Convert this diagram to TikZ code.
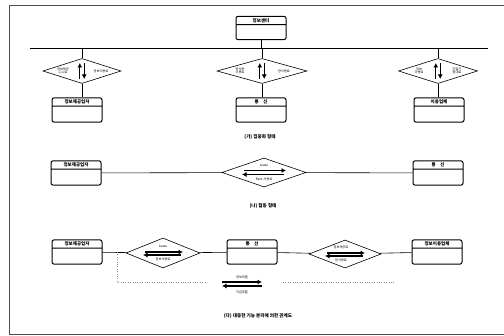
\documentclass[tikz,border=0pt]{standalone}
\usepackage{fontspec}
\newfontfamily\kr{Noto Sans CJK KR}
\usetikzlibrary{shapes.geometric,shapes.multipart,arrows.meta}

\begin{document}
\begin{tikzpicture}[x=1pt,y=-1pt,
  unit/.style={rectangle split, rectangle split parts=2, draw, line width=1pt, rounded corners=2pt,
    text width=47pt, align=center, inner sep=1.5pt, font=\kr\bfseries\fontsize{4.5}{5}\selectfont},
  deal/.style={diamond, draw, line width=0.6pt, inner sep=0pt},
  note/.style={font=\kr\fontsize{3.2}{3.6}\selectfont, align=center, inner sep=0.3pt},
  captext/.style={font=\kr\bfseries\fontsize{4.6}{5}\selectfont},
  flow/.style={line width=1.3pt, -{Latex[length=4.5pt,width=5pt]}},
  link/.style={line width=0.6pt}]
\useasboundingbox (0,0) rectangle (504,336);
% frame
\draw[line width=0.8pt, black!70] (504,5) -- (9,5) -- (9,334) -- (504,334);

% (가)
\node[unit] (hub) at (261,28) {정보센터\nodepart{second}\rule{0pt}{11pt}};
\coordinate (busl) at (30,48);
\coordinate (busr) at (488,48);
\draw[link] (busl) -- (busr);
\draw[link] (hub) -- (hub |- busl);

\node[deal, minimum width=78pt, minimum height=25pt] (d1) at (82,71) {};
\node[deal, minimum width=90pt, minimum height=25pt] (d2) at (262,71) {};
\node[deal, minimum width=79pt, minimum height=25pt] (d3) at (438,71) {};
\node[unit] (ip1) at (77,110) {정보제공업자\nodepart{second}\rule{0pt}{12pt}};
\node[unit] (net1) at (261,110) {통\quad 신\nodepart{second}\rule{0pt}{12pt}};
\node[unit] (us1) at (439,110) {이용업체\nodepart{second}\rule{0pt}{12pt}};

\draw[link] (d1.north |- busl) -- (d1.north);
\draw[link] (d2.north |- busl) -- (d2.north);
\draw[link] (d3.north |- busl) -- (d3.north);
\draw[link] (d1.south) -- (d1.south |- ip1.north);
\draw[link] (d2.south) -- (d2.south |- net1.north);
\draw[link] (d3.south) -- (d3.south |- us1.north);

\node[note] (d1l) at ([xshift=-19pt]d1.center) {정보제공\\수수료};
\node[note] (d1r) at ([xshift=19pt]d1.center) {정보이용료};
\node[note] (d2l) at ([xshift=-22pt]d2.center) {망사용\\이용료};
\node[note] (d2r) at ([xshift=22pt]d2.center) {망이용료};
\node[note] (d3l) at ([xshift=-19pt]d3.center) {정보\\이용료};
\node[note] (d3r) at ([xshift=19pt]d3.center) {단말기\\임대료};
\draw[flow] ([shift={(-2.2,8)}]d1.center) -- ([shift={(-2.2,-8)}]d1.center);
\draw[flow] ([shift={(2.2,-8)}]d1.center) -- ([shift={(2.2,8)}]d1.center);
\draw[flow] ([shift={(-2.2,8)}]d2.center) -- ([shift={(-2.2,-8)}]d2.center);
\draw[flow] ([shift={(2.2,-8)}]d2.center) -- ([shift={(2.2,8)}]d2.center);
\draw[flow] ([shift={(-2.2,8)}]d3.center) -- ([shift={(-2.2,-8)}]d3.center);
\draw[flow] ([shift={(2.2,-8)}]d3.center) -- ([shift={(2.2,8)}]d3.center);

\node[captext] (capa) at (260,137) {(가) 집중화 형태};

% (나)
\node[unit] (ip2) at (76,173) {정보제공업자\nodepart{second}\rule{0pt}{12pt}};
\node[unit] (net2) at (438,173) {통\quad 신\nodepart{second}\rule{0pt}{12pt}};
\node[deal, minimum width=84pt, minimum height=29pt] (e1) at (264,172.5) {};
\draw[link] (ip2) -- (e1);
\draw[link] (e1) -- (net2);
\node[note] (e1t) at ([yshift=7.5pt]e1.center) {Lease};
\node[note] (e1b) at ([yshift=-7pt]e1.center) {Rent 사용료};
\draw[flow] ([shift={(-20,-2)}]e1.center) -- ([shift={(22,-2)}]e1.center);
\draw[flow] ([shift={(20,2)}]e1.center) -- ([shift={(-22,2)}]e1.center);

\node[captext] (capb) at (263,206) {(나) 협동 형태};

% (다)
\node[unit] (ip3) at (77,252) {정보제공업자\nodepart{second}\rule{0pt}{12pt}};
\node[unit] (net3) at (252,252) {통\quad 신\nodepart{second}\rule{0pt}{12pt}};
\node[unit] (us3) at (437,252) {정보이용업체\nodepart{second}\rule{0pt}{12pt}};
\node[deal, minimum width=74pt, minimum height=30pt] (g1) at (163,253) {};
\node[deal, minimum width=72pt, minimum height=28pt] (g2) at (345,254) {};
\draw[link] (ip3) -- (g1);
\draw[link] (g1) -- (net3);
\draw[link] (net3) -- (g2);
\draw[link] (g2) -- (us3);
\node[note] (g1t) at ([yshift=6.5pt]g1.center) {Lease};
\node[note] (g1b) at ([yshift=-6pt]g1.center) {정보사용료};
\draw[flow] ([shift={(-18,-1)}]g1.center) -- ([shift={(20,-1)}]g1.center);
\draw[flow] ([shift={(18,2)}]g1.center) -- ([shift={(-20,2)}]g1.center);
\node[note] (g2t) at ([shift={(-4,-6.5)}]g2.center) {정보제공료};
\node[note] (g2b) at ([shift={(-4,6)}]g2.center) {망사용료};
\draw[flow] ([shift={(-18,-1)}]g2.center) -- ([shift={(20,-1)}]g2.center);
\draw[flow] ([shift={(18,2)}]g2.center) -- ([shift={(-20,2)}]g2.center);

% dotted path and legend
\coordinate (dt1) at (117,252);
\coordinate (dt2) at (117,282);
\coordinate (dt3) at (205,282);
\coordinate (dt4) at (283,282);
\coordinate (dt5) at (395,282);
\draw[dotted, black!45] (dt1) -- (dt2) -- (dt3);
\draw[dotted, black!45] (dt4) -- (dt5);
\coordinate (lg) at (242,283);
\node[note] (lgt) at ([yshift=6pt]lg) {정보흐름};
\node[note] (lgb) at ([yshift=-9pt]lg) {자금흐름};
\draw[flow] ([shift={(-20,-1)}]lg) -- ([shift={(20,-1)}]lg);
\draw[flow] ([shift={(20,3)}]lg) -- ([shift={(-20,3)}]lg);

\node[captext] (capc) at (258,316) {(다) 대등한 기능 분리에 의한 관계도};
\end{tikzpicture}
\end{document}
